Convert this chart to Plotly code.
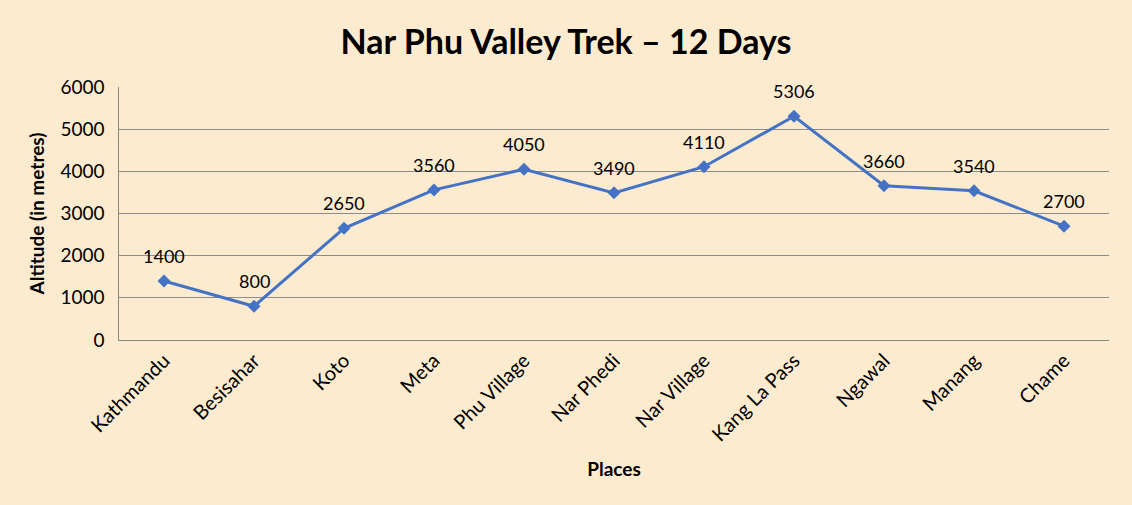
import plotly.graph_objects as go

places = ["Kathmandu", "Besisahar", "Koto", "Meta", "Phu Village", "Nar Phedi",
          "Nar Village", "Kang La Pass", "Ngawal", "Manang", "Chame"]
altitudes = [1400, 800, 2650, 3560, 4050, 3490, 4110, 5306, 3660, 3540, 2700]

FONT = "Lato, Liberation Sans, sans-serif"
BG = "#FDEBD0"

fig = go.Figure()
fig.add_trace(go.Scatter(
    x=places, y=altitudes, mode="lines+markers",
    line=dict(color="#4472C4", width=3),
    marker=dict(symbol="diamond", size=10, color="#4472C4"),
    showlegend=False,
))

# value labels above each point
for p, a in zip(places, altitudes):
    fig.add_annotation(x=p, y=a, text=str(a), showarrow=False, yshift=25,
                       font=dict(family=FONT, size=18, color="black"))

fig.update_layout(
    width=1132, height=505,
    paper_bgcolor=BG, plot_bgcolor=BG,
    margin=dict(l=119, r=23, t=87, b=165),
    title=dict(text="<b>Nar Phu Valley Trek – 12 Days</b>", x=0.5, xanchor="center",
               y=0.917, yanchor="middle", font=dict(family=FONT, size=34, color="black")),
    font=dict(family=FONT, size=18, color="black"),
)
fig.update_xaxes(
    range=[-0.5, len(places) - 0.5],
    tickangle=-45, showgrid=False, showline=True, linecolor="#888888", linewidth=1,
    ticks="", tickfont=dict(size=20),
    title=dict(text="<b>Places</b>", font=dict(size=19), standoff=18),
)
fig.update_yaxes(
    range=[0, 6000], dtick=1000, showgrid=True, gridcolor="#8C8C8C", gridwidth=1,
    showline=True, linecolor="#888888", linewidth=1, zeroline=False,
    ticks="", tickfont=dict(size=19), ticksuffix="  ",
    title=dict(text="<b>Altitude (in metres)</b>", font=dict(size=19), standoff=10),
)

fig.write_html("out.html", config={"displayModeBar": False},
               post_script="document.body.style.margin='0';")
